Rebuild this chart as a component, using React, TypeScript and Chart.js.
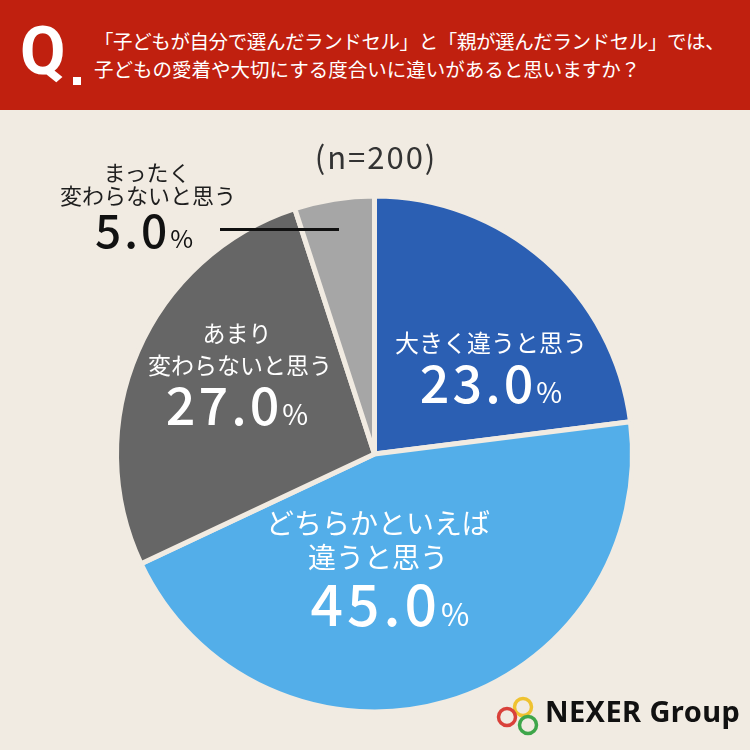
import React, { useEffect, useRef } from "react";
import { Chart, registerables } from "chart.js";

Chart.register(...registerables);

const categories = ["大きく違うと思う", "どちらかといえば違うと思う", "あまり変わらないと思う", "まったく変わらないと思う"];
const values = [23.0, 45.0, 27.0, 5.0];
const colors = ["#2b5fb3", "#53aee9", "#666666", "#a6a6a6"];
const titleLines = [
  "「子どもが自分で選んだランドセル」と「親が選んだランドセル」では、",
  "子どもの愛着や大切にする度合いに違いがあると思いますか？",
];
const sampleLabel = "(n=200)";

const BG = "#f1ebe2";
const JP = '"Noto Sans CJK JP", "Noto Sans", sans-serif';

function Pct({ v, size, color, ls }: { v: number; size: number; color: string; ls: number }) {
  return (
    <span style={{ color, fontFamily: JP, fontWeight: 500, whiteSpace: "nowrap", lineHeight: 1 }}>
      <span style={{ fontSize: size, letterSpacing: ls }}>{v.toFixed(1)}</span>
      <span style={{ fontSize: size * 0.54, fontWeight: 400 }}>%</span>
    </span>
  );
}

function At({ x, y, children, style }: { x: number; y: number; children: any; style?: any }) {
  return (
    <div
      style={{
        position: "absolute",
        left: x,
        top: y,
        transform: "translate(-50%, -50%)",
        whiteSpace: "nowrap",
        lineHeight: 1,
        textAlign: "center",
        fontFamily: JP,
        ...style,
      }}
    >
      {children}
    </div>
  );
}

export default function App() {
  const ref = useRef<HTMLCanvasElement | null>(null);
  useEffect(() => {
    if (!ref.current) return;
    const chart = new Chart(ref.current, {
      type: "pie",
      data: {
        labels: categories,
        datasets: [
          {
            data: values,
            backgroundColor: colors,
            borderColor: BG,
            borderWidth: 5,
          },
        ],
      },
      options: {
        animation: false,
        responsive: false,
        radius: 258,
        layout: { padding: { left: 116, right: 117, top: 198, bottom: 40 } },
        plugins: { legend: { display: false }, tooltip: { enabled: false } },
      },
    });
    return () => chart.destroy();
  }, []);

  return (
    <div
      style={{
        position: "absolute",
        left: 0,
        top: 0,
        width: 750,
        height: 750,
        background: BG,
        overflow: "hidden",
        fontFamily: JP,
      }}
    >
      <canvas ref={ref} width={750} height={750} style={{ position: "absolute", left: 0, top: 0 }} />
      <div style={{ position: "absolute", left: 0, top: 0, width: 750, height: 110, background: "#c0200f" }}>
        <div
          style={{
            position: "absolute",
            left: 20,
            top: 19,
            color: "#fff",
            fontFamily: 'Roboto, "Noto Sans", sans-serif',
            fontWeight: 700,
            fontSize: 66,
            lineHeight: 1,
          }}
        >
          Q
        </div>
        <div style={{ position: "absolute", left: 73, top: 77, width: 8, height: 8, background: "#fff" }} />
        {titleLines.map((t, i) => (
          <div
            key={i}
            style={{
              position: "absolute",
              left: 94,
              top: 41 + i * 28,
              transform: "translateY(-50%)",
              color: "#fff",
              fontSize: 19.5,
              fontWeight: 400,
              letterSpacing: i === 0 ? -0.4 : 0,
              whiteSpace: "nowrap",
              lineHeight: 1,
              fontFamily: JP,
            }}
          >
            {t}
          </div>
        ))}
      </div>

      <At x={376} y={155} style={{ fontSize: 31, color: "#333", fontWeight: 400, letterSpacing: 2 }}>
        {sampleLabel}
      </At>

      {/* 23.0 */}
      <At x={491} y={342} style={{ fontSize: 24, color: "#fff" }}>大きく違うと思う</At>
      <At x={491} y={381}>
        <Pct v={values[0]} size={52} ls={3} color="#fff" />
      </At>

      {/* 45.0 */}
      <At x={378} y={522} style={{ fontSize: 28, color: "#fff" }}>どちらかといえば</At>
      <At x={378} y={556} style={{ fontSize: 28, color: "#fff" }}>違うと思う</At>
      <At x={390} y={601}>
        <Pct v={values[1]} size={57} ls={4} color="#fff" />
      </At>

      {/* 27.0 */}
      <At x={237} y={332} style={{ fontSize: 23, color: "#fff" }}>あまり</At>
      <At x={240} y={364} style={{ fontSize: 23, color: "#fff" }}>変わらないと思う</At>
      <At x={237} y={403}>
        <Pct v={values[2]} size={52} ls={3} color="#fff" />
      </At>

      {/* 5.0 */}
      <At x={147} y={171} style={{ fontSize: 22, color: "#1e1e1e" }}>まったく</At>
      <At x={148} y={194} style={{ fontSize: 22, color: "#1e1e1e" }}>変わらないと思う</At>
      <At x={144} y={228}>
        <Pct v={values[3]} size={46} ls={3} color="#111" />
      </At>
      <div style={{ position: "absolute", left: 220, top: 228, width: 119, height: 3, background: "#111" }} />

      {/* logo */}
      <svg width={60} height={50} style={{ position: "absolute", left: 490, top: 690 }}>
        <circle cx={33} cy={17} r={8.5} fill="none" stroke="#efc230" strokeWidth={3.5} />
        <circle cx={17} cy={27} r={8.5} fill="none" stroke="#d9413a" strokeWidth={3.5} />
        <circle cx={38} cy={35} r={8.5} fill="none" stroke="#3ea64a" strokeWidth={3.5} />
      </svg>
      <div
        style={{
          position: "absolute",
          left: 545,
          top: 710,
          transform: "translateY(-50%)",
          fontFamily: '"Noto Sans", sans-serif',
          fontWeight: 700,
          fontSize: 29,
          letterSpacing: 0.4,
          color: "#111",
          lineHeight: 1,
          whiteSpace: "nowrap",
        }}
      >
        NEXER Group
      </div>
    </div>
  );
}
